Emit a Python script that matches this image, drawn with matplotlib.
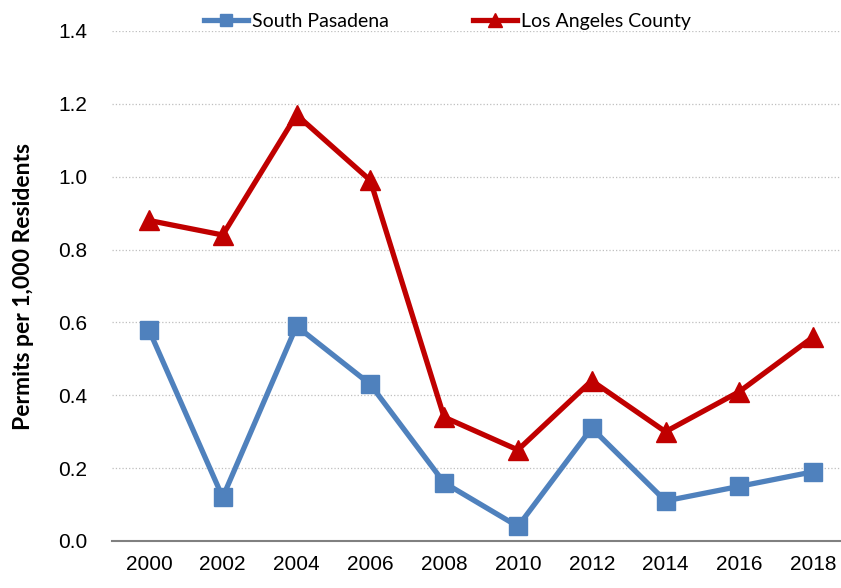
import matplotlib
matplotlib.use("Agg")
import matplotlib.pyplot as plt
from matplotlib import font_manager

years = ["2000", "2002", "2004", "2006", "2008", "2010", "2012", "2014", "2016", "2018"]
south_pasadena = [0.58, 0.12, 0.59, 0.43, 0.16, 0.04, 0.31, 0.11, 0.15, 0.19]
la_county = [0.88, 0.84, 1.17, 0.99, 0.34, 0.25, 0.44, 0.30, 0.41, 0.56]

names = {f.name for f in font_manager.fontManager.ttflist}
tick_font = "Liberation Sans Narrow" if "Liberation Sans Narrow" in names else "Liberation Sans"
label_font = "Lato"

fig = plt.figure(figsize=(8.41, 5.88), dpi=100)
ax = fig.add_axes([112 / 841, 47 / 588, 738 / 841, 510 / 588])

x = list(range(len(years)))
ax.plot(x, south_pasadena, color="#4F81BD", lw=3.8, marker="s", ms=13,
        label="South Pasadena")
ax.plot(x, la_county, color="#C00000", lw=3.8, marker="^", ms=14,
        label="Los Angeles County")

ax.set_xlim(-0.5, len(years) - 0.5)
ax.set_ylim(0, 1.4)
ax.set_yticks([0, 0.2, 0.4, 0.6, 0.8, 1.0, 1.2, 1.4])
ax.set_yticklabels([f"{v:.1f}" for v in ax.get_yticks()], fontsize=15, family=tick_font)
ax.set_xticks(x)
ax.set_xticklabels(years, fontsize=15, family=tick_font)
ax.tick_params(length=0, pad=10)
ax.tick_params(axis="y", pad=18)

ax.grid(axis="y", color="#BFBFBF", ls=":", lw=0.9)
ax.set_axisbelow(True)
for s in ["top", "right", "left"]:
    ax.spines[s].set_visible(False)
ax.spines["bottom"].set_color("#808080")
ax.spines["bottom"].set_linewidth(1.5)

ax.set_ylabel("Permits per 1,000 Residents", fontsize=16.5, fontweight="bold",
              family=label_font, labelpad=17)

fig.legend(loc="upper center", bbox_to_anchor=(0.532, 1.008), ncol=2, frameon=False,
           prop={"family": label_font, "size": 14}, columnspacing=4.3,
           handlelength=2.3, handletextpad=0.2, markerscale=0.7)

fig.savefig("out.png", dpi=100)
